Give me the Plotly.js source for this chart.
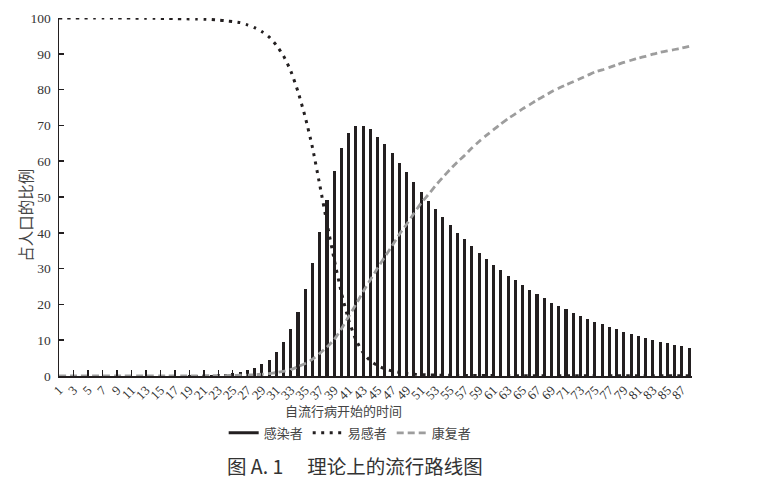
<!DOCTYPE html>
<html>
<head>
<meta charset="utf-8">
<script src="https://cdn.plot.ly/plotly-3.0.1.min.js"></script>
<style>
  html, body { margin: 0; padding: 0; background: #fff; }
  #chart { width: 764px; height: 482px; }
</style>
</head>
<body>
<div id="chart"></div>
<script>
  // ---------- Data (percent of population) ----------
  const days = [
    1, 2, 3, 4, 5, 6, 7, 8, 9, 10, 11, 12, 13, 14, 15, 16, 17, 18, 19, 20,
    21, 22, 23, 24, 25, 26, 27, 28, 29, 30, 31, 32, 33, 34, 35, 36, 37, 38, 39, 40,
    41, 42, 43, 44, 45, 46, 47, 48, 49, 50, 51, 52, 53, 54, 55, 56, 57, 58, 59, 60,
    61, 62, 63, 64, 65, 66, 67, 68, 69, 70, 71, 72, 73, 74, 75, 76, 77, 78, 79, 80,
    81, 82, 83, 84, 85, 86, 87, 88
  ];
  const tickDays = [
    1, 3, 5, 7, 9, 11, 13, 15, 17, 19, 21, 23, 25, 27, 29, 31, 33, 35, 37, 39, 41, 43,
    45, 47, 49, 51, 53, 55, 57, 59, 61, 63, 65, 67, 69, 71, 73, 75, 77, 79, 81, 83, 85, 87
  ];
  const tickLabels = [
    "1", "3", "5", "7", "9", "11", "13", "15", "17", "19", "21", "23", "25", "27", "29",
    "31", "33", "35", "37", "39", "41", "43", "45", "47", "49", "51", "53", "55", "57",
    "59", "61", "63", "65", "67", "69", "71", "73", "75", "77", "79", "81", "83", "85", "87"
  ];
  const infected = [
    0.002, 0.003, 0.004, 0.005, 0.007, 0.009, 0.012, 0.016, 0.02, 0.03,
    0.035, 0.045, 0.06, 0.075, 0.1, 0.12, 0.14, 0.17, 0.2, 0.22,
    0.26, 0.35, 0.5, 0.65, 0.85, 1.1, 1.6, 2.3, 3.3, 4.6,
    6.7, 9.4, 13.0, 18.0, 24.2, 31.7, 40.3, 49.2, 57.3, 63.6,
    67.8, 69.9, 69.9, 68.9, 66.9, 64.7, 62.2, 59.4, 56.9, 54.1,
    51.3, 49.0, 46.6, 44.3, 42.1, 40.0, 38.2, 36.2, 34.4, 32.7,
    31.1, 29.5, 28.0, 26.7, 25.3, 24.1, 22.8, 21.7, 20.5, 19.5,
    18.6, 17.7, 16.8, 15.9, 15.0, 14.4, 13.7, 13.0, 12.3, 11.7,
    11.1, 10.6, 10.0, 9.5, 9.1, 8.7, 8.3, 7.8
  ];
  const susceptible = [
    100, 100, 100, 100, 100, 100, 100, 100, 100, 100,
    99.97, 99.96, 99.94, 99.92, 99.89, 99.86, 99.83, 99.79, 99.75, 99.72,
    99.67, 99.57, 99.4, 99.22, 99.0, 98.7, 98.1, 97.3, 96.2, 94.7,
    92.4, 89.4, 85.2, 79.4, 72.3, 63.8, 53.4, 42.7, 32.5, 23.2,
    15.6, 10.1, 6.5, 4.2, 2.9, 2.0, 1.4, 1.0, 0.7, 0.5,
    0.4, 0.3, 0.25, 0.2, 0.18, 0.16, 0.15, 0.14, 0.13, 0.12,
    0.12, 0.11, 0.11, 0.1, 0.1, 0.1, 0.1, 0.1, 0.1, 0.1,
    0.1, 0.1, 0.1, 0.1, 0.1, 0.1, 0.1, 0.1, 0.1, 0.1,
    0.1, 0.1, 0.1, 0.1, 0.1, 0.1, 0.1, 0.1
  ];
  const recovered = [
    0, 0, 0, 0, 0, 0, 0, 0, 0, 0,
    0.005, 0.007, 0.01, 0.013, 0.017, 0.022, 0.028, 0.035, 0.045, 0.055,
    0.07, 0.085, 0.1, 0.13, 0.16, 0.21, 0.27, 0.36, 0.49, 0.68,
    0.95, 1.3, 1.8, 2.6, 3.5, 4.7, 6.3, 8.1, 10.2, 13.2,
    16.6, 20.0, 23.6, 26.9, 30.2, 33.3, 36.4, 39.6, 42.4, 45.4,
    48.3, 50.7, 53.2, 55.5, 57.7, 59.8, 61.6, 63.7, 65.5, 67.2,
    68.8, 70.4, 71.9, 73.2, 74.6, 75.8, 77.1, 78.2, 79.4, 80.4,
    81.3, 82.2, 83.1, 84.0, 84.9, 85.5, 86.2, 86.9, 87.6, 88.2,
    88.8, 89.3, 89.9, 90.4, 90.8, 91.2, 91.6, 92.1
  ];

  // ---------- Styling ----------
  const INK = "#231f20";
  const GREY = "#9d9d9d";
  const SERIF = "Liberation Serif, DejaVu Serif, serif";
  const CJK = "Noto Sans CJK SC, Noto Sans, sans-serif";

  const traces = [
    {
      type: "bar",
      x: days,
      y: infected,
      width: 0.42,
      marker: { color: INK, line: { width: 0 } },
      showlegend: false,
      hoverinfo: "x+y"
    },
    // legend proxy: the book shows a solid stroke for the bar series
    {
      type: "scatter",
      mode: "lines",
      x: [null],
      y: [null],
      name: "感染者",
      line: { color: INK, width: 3 },
      legendrank: 1
    },
    {
      type: "scatter",
      mode: "lines",
      x: days,
      y: recovered,
      name: "康复者",
      line: { color: GREY, width: 2.8, dash: "7px,4px", shape: "spline", smoothing: 0.6 },
      legendrank: 3
    },
    {
      type: "scatter",
      mode: "lines",
      x: days,
      y: susceptible,
      name: "易感者",
      line: { color: INK, width: 3, dash: "3px,5.5px", shape: "spline", smoothing: 0.6 },
      legendrank: 2
    }
  ];

  const layout = {
    width: 764,
    height: 482,
    paper_bgcolor: "#fff",
    plot_bgcolor: "#fff",
    margin: { l: 59, r: 72, t: 18, b: 106 },
    font: { family: SERIF, color: "#333", size: 13 },
    bargap: 0,
    xaxis: {
      type: "linear",
      range: [1, 88.4],
      tickmode: "array",
      tickvals: tickDays,
      ticktext: tickLabels,
      tickangle: -45,
      ticks: "inside",
      ticklen: 6,
      tickwidth: 1.3,
      tickcolor: INK,
      showline: true,
      linecolor: INK,
      linewidth: 1.5,
      showgrid: false,
      zeroline: false,
      tickfont: { family: SERIF, size: 13, color: "#333" }
    },
    yaxis: {
      range: [0, 100],
      dtick: 10,
      ticks: "inside",
      ticklen: 5,
      tickwidth: 1.5,
      tickcolor: INK,
      showline: true,
      linecolor: INK,
      linewidth: 1.5,
      showgrid: false,
      zeroline: false,
      ticklabelstandoff: 4,
      tickfont: { family: SERIF, size: 13.5, color: "#333" }
    },
    legend: {
      orientation: "h",
      x: 0.46,
      xanchor: "center",
      y: -0.159,
      yanchor: "middle",
      font: { family: CJK, size: 13, color: "#444" },
      bgcolor: "rgba(0,0,0,0)",
      itemwidth: 30,
      traceorder: "normal"
    },
    annotations: [
      {
        text: "占人口的比例",
        xref: "paper", yref: "paper",
        x: -0.054, y: 0.45,
        xanchor: "center", yanchor: "middle",
        textangle: -90,
        showarrow: false,
        font: { family: CJK, size: 15.5, color: "#444" }
      },
      {
        text: "自流行病开始的时间",
        xref: "paper", yref: "paper",
        x: 0.45, y: -0.095,
        xanchor: "center", yanchor: "middle",
        showarrow: false,
        font: { family: CJK, size: 13, color: "#444" }
      },
      {
        text: "图 A. 1　 理论上的流行路线图",
        xref: "paper", yref: "paper",
        x: 0.468, y: -0.251,
        xanchor: "center", yanchor: "middle",
        showarrow: false,
        font: { family: CJK, size: 19.5, color: "#333" }
      }
    ]
  };

  Plotly.newPlot("chart", traces, layout, { displayModeBar: false, staticPlot: true });
</script>
</body>
</html>
